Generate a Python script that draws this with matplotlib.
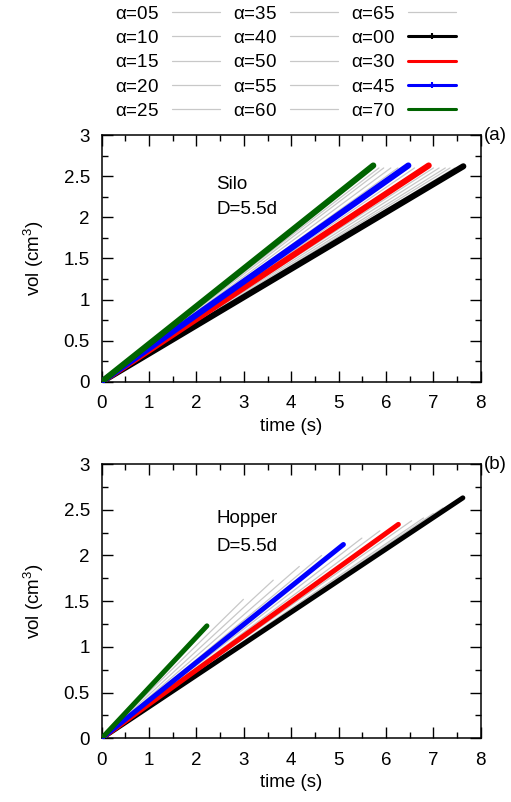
import matplotlib
matplotlib.use("Agg")
import matplotlib.pyplot as plt
from matplotlib.legend_handler import HandlerLine2D
from matplotlib.ticker import MultipleLocator

plt.rcParams['font.family'] = ['Liberation Sans', 'DejaVu Sans']
plt.rcParams['mathtext.fontset'] = 'custom'
plt.rcParams['mathtext.rm'] = 'Liberation Sans'

# series (legend order)
alphas = ["05", "10", "15", "20", "25", "35", "40", "50", "55", "60", "65",
          "00", "30", "45", "70"]
colors = ["#c8c8c8"] * 11 + ["black", "red", "blue", "#006400"]

# Silo: end point of each flow curve (starts at 0,0)
silo_t_end = [7.45, 7.35, 7.25, 7.12, 7.0, 6.75, 6.6, 6.25, 6.1, 5.95, 5.85,
              7.63, 6.90, 6.47, 5.73]
silo_v_end = [2.60, 2.60, 2.60, 2.60, 2.60, 2.60, 2.60, 2.60, 2.60, 2.60, 2.60,
              2.62, 2.63, 2.63, 2.63]

# Hopper
hop_t_end = [7.40, 7.20, 7.00, 6.79, 6.54, 5.87, 5.49, 4.64, 4.17, 3.62, 2.99,
             7.62, 6.26, 5.10, 2.22]
hop_v_end = [2.56, 2.52, 2.46, 2.41, 2.38, 2.27, 2.19, 2.00, 1.88, 1.73, 1.52,
             2.63, 2.34, 2.12, 1.23]

FS = 13.5

fig = plt.figure(figsize=(5.11, 8.02), dpi=100)
ax1 = fig.add_axes([0.199, 0.524, 0.742, 0.3076])
ax2 = fig.add_axes([0.199, 0.0794, 0.742, 0.342])

lines = []
for ax, tt, vv, txt, lab, lwc in [(ax1, silo_t_end, silo_v_end, "Silo", "(a)", 4.4),
                                  (ax2, hop_t_end, hop_v_end, "Hopper", "(b)", 3.6)]:
    for i, a in enumerate(alphas):
        gray = i < 11
        ln, = ax.plot([0, tt[i]], [0, vv[i]], color=colors[i],
                      lw=0.9 if gray else lwc, solid_capstyle='round',
                      label=r"$\mathregular{\alpha}$=" + a,
                      marker='+' if a in ("00", "45") else None,
                      markevery=[0], markersize=5, mew=1.5,
                      zorder=2 if gray else 3 + i)
        if ax is ax1:
            lines.append(ln)
    ax.set_xlim(0, 8)
    ax.set_ylim(0, 3)
    ax.xaxis.set_minor_locator(MultipleLocator(0.5))
    ax.yaxis.set_minor_locator(MultipleLocator(0.25))
    ax.set_xticks(range(9))
    ax.set_yticks([0, 0.5, 1, 1.5, 2, 2.5, 3])
    ax.set_yticklabels(["0", "0.5", "1", "1.5", "2", "2.5", "3"])
    ax.tick_params(which='both', direction='in', top=True, right=True,
                   labelsize=FS, width=1.0)
    ax.tick_params(axis='x', which='major', length=8, pad=9.5)
    ax.tick_params(axis='y', which='major', length=8, pad=8.5)
    ax.tick_params(which='minor', length=4.5)
    for s in ax.spines.values():
        s.set_linewidth(1.1)
    ax.set_xlabel("time (s)", fontsize=FS, labelpad=4)
    ax.set_ylabel(r"vol (cm$^3$)", fontsize=FS, labelpad=13)
    ax.text(2.42, 2.40, txt, fontsize=FS, va='center', ha='left')
    ax.text(2.42, 2.10, "D=5.5d", fontsize=FS, va='center', ha='left')
    ax.text(1.008, 1.0, lab, transform=ax.transAxes, fontsize=FS,
            ha='left', va='center')


def thin(legline, orig):
    legline.update_from(orig)
    if legline.get_linewidth() > 1:
        legline.set_linewidth(2.2)
    legline.set_marker(orig.get_marker())


handler = HandlerLine2D(update_func=thin, numpoints=1)
fig.legend(handles=lines, loc='upper center', bbox_to_anchor=(0.559, 1.014),
           ncol=3, frameon=False, fontsize=FS, markerfirst=False,
           handlelength=2.55, handletextpad=0.7, columnspacing=0.7,
           labelspacing=0.38, handler_map={plt.Line2D: handler})

fig.savefig("out.png", dpi=100)
